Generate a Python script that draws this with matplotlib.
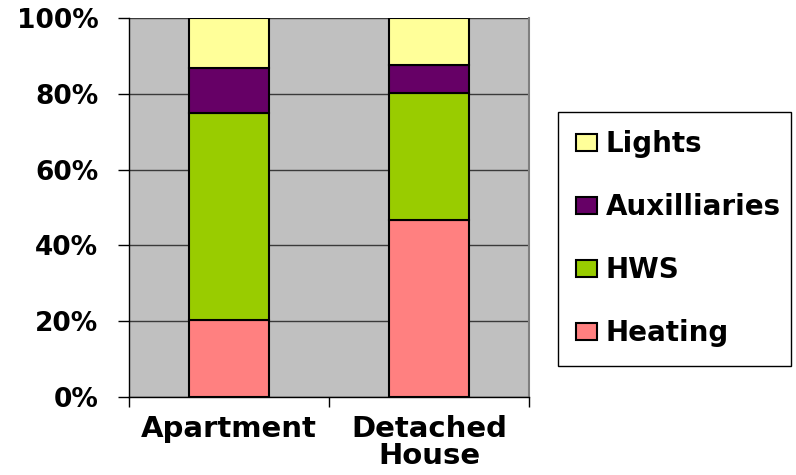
from matplotlib import pyplot as plt
from matplotlib.ticker import FixedLocator, PercentFormatter
import numpy as np


# --------------------------------------------------------------------------------------------------------------------
# data...

categories = ['Apartment', 'Detached\nHouse']

heating = [20.3, 46.7]
hws = [54.6, 33.5]
auxilliaries = [11.9, 7.4]
lights = [13.2, 12.4]

series = [('Heating', heating, '#FF8080'),
          ('HWS', hws, '#99CC00'),
          ('Auxilliaries', auxilliaries, '#660066'),
          ('Lights', lights, '#FFFF99')]

y_ticks = [0, 20, 40, 60, 80, 100]


# --------------------------------------------------------------------------------------------------------------------
# plotter...

plt.rcParams['font.family'] = ['DejaVu Sans']
plt.rcParams['font.weight'] = 'bold'

fig = plt.figure(figsize=(7.96, 4.75), dpi=100)
ax = fig.add_axes([0.162, 0.164, 0.503, 0.798])

ax.set_facecolor('#C0C0C0')
ax.set_axisbelow(True)

x = np.arange(len(categories))
bottom = np.zeros(len(categories))
handles = []

for name, values, colour in series:
    bars = ax.bar(x, values, 0.4, bottom=bottom, color=colour, edgecolor='black', linewidth=1.5, label=name)
    handles.append(bars)
    bottom += np.array(values)

ax.set(xlim=[-0.5, 1.5], ylim=[0, 100])

ax.yaxis.set_major_locator(FixedLocator(y_ticks))
ax.yaxis.set_major_formatter(PercentFormatter(decimals=0))
ax.yaxis.grid(True, color='#3a3a3a', linewidth=1.0)

ax.set_xticks(x)
ax.set_xticklabels(categories, fontsize=21, fontweight='bold', linespacing=0.95)
ax.set_xticks([-0.5, 0.5, 1.5], minor=True)
ax.tick_params(axis='x', which='major', length=0, pad=13)
ax.tick_params(axis='x', which='minor', length=7, width=1.0, color='black')
ax.tick_params(axis='y', length=8, width=1.0, pad=14, labelsize=19)

for label in ax.get_yticklabels():
    label.set_fontweight('bold')

ax.spines['top'].set_visible(False)
ax.spines['right'].set_color('#808080')
ax.spines['right'].set_linewidth(1.5)
ax.spines['left'].set_linewidth(1.0)
ax.spines['bottom'].set_linewidth(1.0)

legend = fig.legend(handles[::-1], [s[0] for s in series][::-1],
                    loc='upper left', bbox_to_anchor=(0.701, 0.764, 0.293, 0.0), mode='expand',
                    prop={'size': 20, 'weight': 'bold'},
                    handlelength=0.75, handleheight=0.6, handletextpad=0.3,
                    labelspacing=1.26, borderpad=0.66, borderaxespad=0,
                    fancybox=False, edgecolor='black', framealpha=1)
legend.get_frame().set_linewidth(1.0)

fig.savefig('out.png', dpi=100)
